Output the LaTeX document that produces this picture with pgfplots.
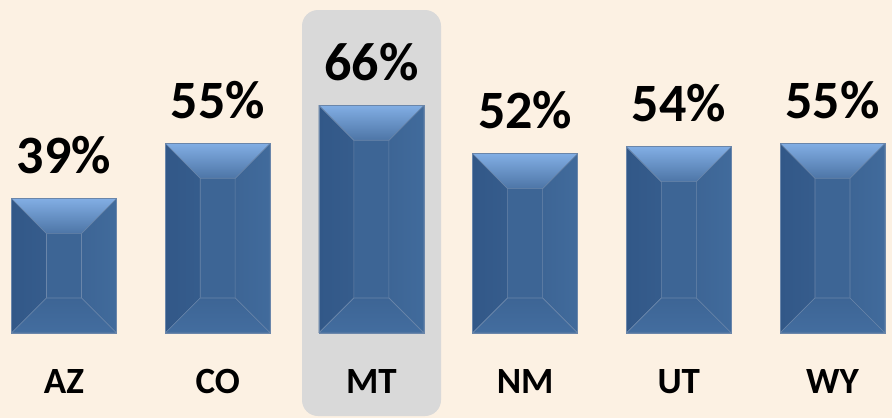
\documentclass[border=0pt]{standalone}
\usepackage{pgfplots}
\pgfplotsset{compat=1.18}
\usepackage{fontspec}
\setmainfont{Carlito}
\definecolor{bg}{HTML}{FCF1E3}
\definecolor{hl}{HTML}{D9D9D9}
\definecolor{barmid}{HTML}{3D6595}
\definecolor{barline}{HTML}{6A86AA}
\definecolor{topout}{HTML}{82AEE4}
\definecolor{topin}{HTML}{4D75A6}
\definecolor{leftout}{HTML}{325888}
\definecolor{leftin}{HTML}{3D6595}
\definecolor{rightout}{HTML}{416B9C}
\definecolor{rightin}{HTML}{3D6595}
\definecolor{botout}{HTML}{436D9F}
\definecolor{botin}{HTML}{3D6595}
\tikzset{nopp/.style={path picture={}}}
\pgfplotsset{
  bevelbar/.style={ybar, bar width=0.683, bar shift=0pt,
    fill=barmid, draw=barline, line width=0.6bp,
    path picture={
      \fill[nopp, left color=leftout, right color=leftin]
        (path picture bounding box.north west) --
        ([xshift=35bp,yshift=-35bp]path picture bounding box.north west) --
        ([xshift=35bp,yshift=35bp]path picture bounding box.south west) --
        (path picture bounding box.south west) -- cycle;
      \fill[nopp, left color=rightin, right color=rightout]
        (path picture bounding box.north east) --
        ([xshift=-35bp,yshift=-35bp]path picture bounding box.north east) --
        ([xshift=-35bp,yshift=35bp]path picture bounding box.south east) --
        (path picture bounding box.south east) -- cycle;
      \fill[nopp, top color=botin, bottom color=botout]
        (path picture bounding box.south west) --
        ([xshift=35bp,yshift=35bp]path picture bounding box.south west) --
        ([xshift=-35bp,yshift=35bp]path picture bounding box.south east) --
        (path picture bounding box.south east) -- cycle;
      \fill[nopp, top color=topout, bottom color=topin]
        (path picture bounding box.north west) --
        ([xshift=35bp,yshift=-35bp]path picture bounding box.north west) --
        ([xshift=-35bp,yshift=-35bp]path picture bounding box.north east) --
        (path picture bounding box.north east) -- cycle;
    }}
}
\begin{document}
\begin{tikzpicture}
\fill[bg] (0,0) rectangle (892bp,418bp);
\fill[hl, rounded corners=16bp] (302bp,2bp) rectangle (441bp,408bp);
\begin{axis}[
  at={(0,0)}, anchor=south west,
  scale only axis,
  width=892bp, height=418bp,
  xmin=-0.4164, xmax=5.387,
  ymin=-24.64, ymax=96.52,
  enlargelimits=false,
  clip=false,
  axis line style={draw=none},
  tick style={draw=none},
  ytick=\empty,
  xtick={0,1,2,3,4,5},
  xticklabels={AZ,CO,MT,NM,UT,WY},
  xticklabel style={anchor=base, yshift=25bp, font=\fontsize{37bp}{42bp}\selectfont\bfseries},
]
\addplot[bevelbar] coordinates {(0,39)};
\addplot[bevelbar] coordinates {(1,55)};
\addplot[bevelbar] coordinates {(2,66)};
\addplot[bevelbar] coordinates {(3,52)};
\addplot[bevelbar] coordinates {(4,54)};
\addplot[bevelbar] coordinates {(5,55)};
\addplot[draw=none, mark=none,
  /pgf/number format/assume math mode=true,
  nodes near coords={\pgfmathprintnumber{\pgfplotspointmeta}\%},
  every node near coord/.append style={anchor=base, yshift=25bp, inner sep=0pt,
    font=\fontsize{54bp}{60bp}\selectfont\bfseries, text=black}]
  coordinates {(0,39) (1,55) (2,66) (3,52) (4,54) (5,55)};
\end{axis}
\end{tikzpicture}
\end{document}
